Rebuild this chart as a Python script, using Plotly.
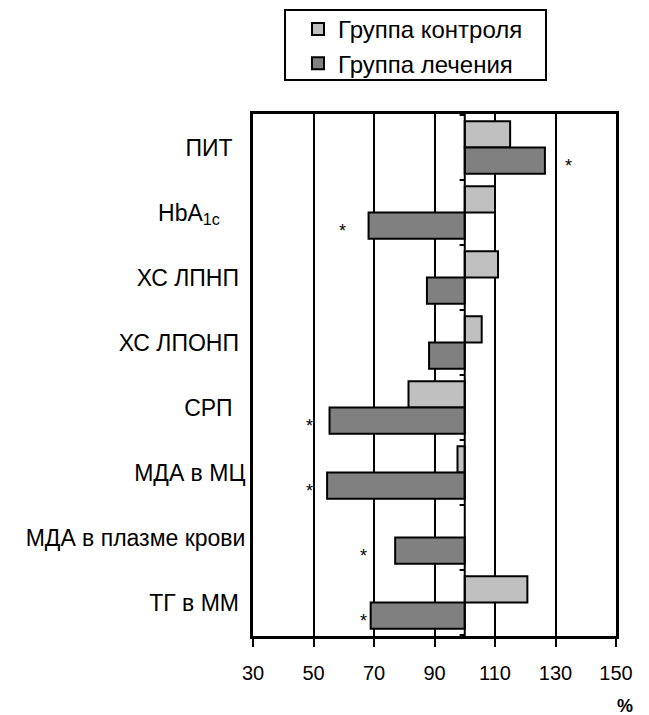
import plotly.graph_objects as go

categories = ["ПИТ", "HbA<sub>1c</sub>", "ХС ЛПНП", "ХС ЛПОНП", "СРП",
              "МДА в МЦ", "МДА в плазме крови", "ТГ в ММ"]
label_pad = [2, 4, 1, 1, 2, 0, 0, 1]
control = [115, 110, 111, 105.6, 81.4, 97.6, None, 120.7]
treatment = [126.5, 68.2, 87.5, 88.2, 55.3, 54.5, 77, 68.9]
star_x = [134.3, 59.5, None, None, 48.7, 48.7, 66.6, 66.6]
x_ticks = [30, 50, 70, 90, 110, 130, 150]
BASE = 100

labels = [c + "\u00a0" * p for c, p in zip(categories, label_pad)]
FONT = "Liberation Sans, Arial, sans-serif"

W, H = 649, 715
L, R, T, B = 253, 33, 114, 79
PW, PH = W - L - R, H - T - B


def px(xp):
    return (xp - L) / PW


def py(yp):
    return (H - B - yp) / PH


fig = go.Figure()
fig.add_trace(go.Bar(
    y=labels, x=[None if v is None else v - BASE for v in control], base=BASE,
    orientation="h", name="Группа контроля", legendgroup="c",
    marker=dict(color="#C0C0C0", line=dict(color="black", width=2))))
fig.add_trace(go.Bar(
    y=labels, x=[v - BASE for v in treatment], base=BASE,
    orientation="h", name="Группа лечения", legendgroup="t",
    marker=dict(color="#808080", line=dict(color="black", width=2))))

# axis line at 100 with boundary ticks
fig.add_shape(type="line", xref="x", yref="paper", x0=BASE, x1=BASE, y0=0, y1=1,
              line=dict(color="black", width=2))
for i in range(len(categories) + 1):
    fig.add_shape(type="line", xref="x", yref="y", x0=BASE - 1.7, x1=BASE,
                  y0=i - 0.5, y1=i - 0.5, line=dict(color="black", width=2))

# legend frame
fig.add_shape(type="rect", xref="paper", yref="paper", x0=px(285), x1=px(546),
              y0=py(80), y1=py(10), line=dict(color="black", width=2),
              fillcolor="white", layer="below")

for lab, sx in zip(labels, star_x):
    if sx is not None:
        fig.add_annotation(x=sx, y=lab, text="*", showarrow=False,
                           yshift=-18, font=dict(size=18, color="black", family=FONT))

fig.add_annotation(x=px(625), y=py(706), xref="paper", yref="paper", text="<b>%</b>",
                   xanchor="center", yanchor="middle",
                   showarrow=False, font=dict(size=18, color="black", family=FONT))

fig.update_layout(
    width=W, height=H,
    margin=dict(l=L, r=R, t=T, b=B, pad=0, autoexpand=False),
    paper_bgcolor="white", plot_bgcolor="white",
    barmode="group", bargap=0.19, bargroupgap=0,
    font=dict(family=FONT, size=20, color="black"),
    showlegend=True,
    legend=dict(x=px(298), y=py(7), xanchor="left", yanchor="top",
                bgcolor="rgba(0,0,0,0)", borderwidth=0, tracegroupgap=0,
                font=dict(size=24, family=FONT)),
    xaxis=dict(range=[30, 150], tickvals=x_ticks, showgrid=True, gridcolor="black",
               gridwidth=2, zeroline=False, showline=True, linecolor="black",
               linewidth=3, mirror=True, ticks="outside", ticklen=8, tickwidth=2,
               tickcolor="black", tickfont=dict(size=20), ticklabelstandoff=9),
    yaxis=dict(autorange="reversed", showgrid=False, zeroline=False, showline=True,
               linecolor="black", linewidth=3, mirror=True, ticks="",
               tickfont=dict(size=23)),
)

fig.write_html("out.html")
